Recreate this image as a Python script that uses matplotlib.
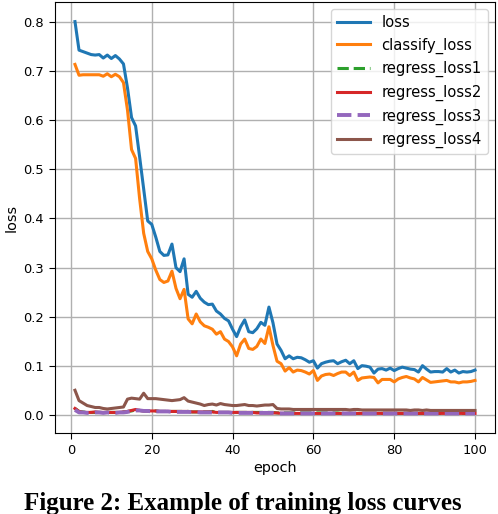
import numpy as np
import matplotlib
matplotlib.use("Agg")
import matplotlib.pyplot as plt

# epochs 1..100
epochs = np.arange(1, 101)

loss = [0.800, 0.742, 0.739, 0.736, 0.733, 0.732, 0.733, 0.726, 0.732, 0.725,
        0.731, 0.724, 0.714, 0.665, 0.605, 0.588, 0.525, 0.460, 0.395, 0.388,
        0.362, 0.333, 0.325, 0.326, 0.348, 0.300, 0.292, 0.318, 0.246, 0.240,
        0.252, 0.238, 0.230, 0.225, 0.226, 0.212, 0.206, 0.197, 0.192, 0.175,
        0.160, 0.180, 0.194, 0.170, 0.168, 0.176, 0.189, 0.183, 0.220, 0.188,
        0.145, 0.132, 0.115, 0.121, 0.115, 0.118, 0.117, 0.113, 0.108, 0.111,
        0.096, 0.105, 0.108, 0.110, 0.111, 0.105, 0.109, 0.112, 0.105, 0.111,
        0.095, 0.101, 0.100, 0.098, 0.086, 0.094, 0.095, 0.092, 0.096, 0.091,
        0.095, 0.098, 0.096, 0.094, 0.093, 0.088, 0.101, 0.094, 0.088, 0.089,
        0.089, 0.088, 0.095, 0.088, 0.092, 0.086, 0.089, 0.088, 0.089, 0.092]

classify_loss = [0.713, 0.691, 0.692, 0.692, 0.692, 0.692, 0.692, 0.689, 0.694, 0.688,
                 0.693, 0.688, 0.676, 0.620, 0.540, 0.522, 0.440, 0.370, 0.333, 0.318,
                 0.295, 0.276, 0.270, 0.273, 0.293, 0.258, 0.237, 0.256, 0.196, 0.186,
                 0.206, 0.190, 0.182, 0.179, 0.175, 0.165, 0.170, 0.155, 0.150, 0.139,
                 0.121, 0.145, 0.155, 0.136, 0.134, 0.140, 0.155, 0.146, 0.180, 0.142,
                 0.110, 0.105, 0.090, 0.097, 0.088, 0.092, 0.091, 0.088, 0.084, 0.091,
                 0.071, 0.080, 0.083, 0.084, 0.081, 0.085, 0.088, 0.088, 0.081, 0.088,
                 0.071, 0.076, 0.077, 0.078, 0.077, 0.066, 0.073, 0.073, 0.073, 0.068,
                 0.074, 0.077, 0.079, 0.076, 0.074, 0.068, 0.077, 0.072, 0.067, 0.068,
                 0.069, 0.070, 0.071, 0.068, 0.068, 0.066, 0.068, 0.068, 0.069, 0.071]

regress_loss1 = [0.014, 0.008, 0.007, 0.006, 0.006, 0.006, 0.006, 0.006, 0.006, 0.006,
                 0.006, 0.006, 0.007, 0.008, 0.009, 0.011, 0.010, 0.009, 0.009, 0.009,
                 0.009, 0.008, 0.008, 0.008, 0.008, 0.008, 0.008, 0.008, 0.008, 0.007,
                 0.007, 0.007, 0.007, 0.007, 0.008, 0.006, 0.006, 0.006, 0.006, 0.006,
                 0.006, 0.006, 0.006, 0.006, 0.006, 0.006, 0.006, 0.006, 0.006, 0.006,
                 0.005, 0.005, 0.005, 0.005, 0.005, 0.005, 0.005, 0.005, 0.005, 0.005,
                 0.005, 0.005, 0.005, 0.005, 0.005, 0.005, 0.004, 0.004, 0.004, 0.004,
                 0.004, 0.004, 0.004, 0.004, 0.004, 0.004, 0.004, 0.004, 0.004, 0.004,
                 0.004, 0.004, 0.004, 0.004, 0.004, 0.004, 0.004, 0.004, 0.004, 0.004,
                 0.004, 0.004, 0.004, 0.004, 0.004, 0.004, 0.004, 0.004, 0.004, 0.004]

regress_loss2 = [0.014, 0.008, 0.006, 0.006, 0.006, 0.007, 0.006, 0.006, 0.006, 0.006,
                 0.006, 0.006, 0.007, 0.008, 0.010, 0.012, 0.010, 0.009, 0.009, 0.009,
                 0.009, 0.008, 0.008, 0.008, 0.008, 0.008, 0.008, 0.008, 0.008, 0.007,
                 0.007, 0.007, 0.007, 0.007, 0.007, 0.006, 0.006, 0.006, 0.006, 0.006,
                 0.006, 0.006, 0.006, 0.006, 0.006, 0.005, 0.005, 0.005, 0.005, 0.005,
                 0.005, 0.004, 0.004, 0.004, 0.004, 0.004, 0.004, 0.004, 0.004, 0.004,
                 0.004, 0.004, 0.004, 0.004, 0.004, 0.004, 0.004, 0.004, 0.004, 0.004,
                 0.004, 0.004, 0.004, 0.004, 0.004, 0.004, 0.004, 0.004, 0.004, 0.004,
                 0.004, 0.004, 0.004, 0.004, 0.004, 0.004, 0.004, 0.004, 0.004, 0.004,
                 0.004, 0.004, 0.004, 0.004, 0.004, 0.004, 0.004, 0.004, 0.004, 0.004]

regress_loss3 = [0.011, 0.006, 0.006, 0.005, 0.005, 0.006, 0.006, 0.005, 0.006, 0.005,
                 0.005, 0.006, 0.006, 0.007, 0.009, 0.010, 0.010, 0.009, 0.009, 0.008,
                 0.008, 0.008, 0.008, 0.008, 0.007, 0.007, 0.007, 0.007, 0.007, 0.007,
                 0.007, 0.006, 0.006, 0.006, 0.006, 0.006, 0.006, 0.006, 0.006, 0.005,
                 0.005, 0.005, 0.005, 0.005, 0.005, 0.005, 0.005, 0.005, 0.005, 0.005,
                 0.004, 0.004, 0.004, 0.004, 0.004, 0.004, 0.004, 0.004, 0.004, 0.004,
                 0.004, 0.004, 0.004, 0.004, 0.004, 0.004, 0.004, 0.004, 0.004, 0.004,
                 0.004, 0.004, 0.004, 0.004, 0.004, 0.004, 0.004, 0.004, 0.004, 0.004,
                 0.004, 0.004, 0.004, 0.004, 0.004, 0.004, 0.004, 0.004, 0.004, 0.004,
                 0.004, 0.004, 0.004, 0.004, 0.004, 0.004, 0.004, 0.004, 0.004, 0.004]

regress_loss4 = [0.051, 0.030, 0.025, 0.020, 0.018, 0.016, 0.016, 0.014, 0.013, 0.014,
                 0.015, 0.016, 0.017, 0.033, 0.035, 0.034, 0.033, 0.045, 0.034, 0.034,
                 0.034, 0.033, 0.032, 0.031, 0.030, 0.031, 0.032, 0.036, 0.029, 0.027,
                 0.025, 0.023, 0.020, 0.022, 0.023, 0.021, 0.024, 0.022, 0.021, 0.020,
                 0.020, 0.021, 0.022, 0.020, 0.020, 0.019, 0.020, 0.021, 0.021, 0.022,
                 0.014, 0.013, 0.013, 0.013, 0.012, 0.012, 0.012, 0.012, 0.012, 0.012,
                 0.012, 0.012, 0.012, 0.012, 0.012, 0.012, 0.012, 0.012, 0.011, 0.012,
                 0.012, 0.011, 0.011, 0.011, 0.011, 0.011, 0.011, 0.011, 0.011, 0.011,
                 0.011, 0.011, 0.011, 0.010, 0.011, 0.011, 0.010, 0.011, 0.010, 0.010,
                 0.010, 0.010, 0.010, 0.010, 0.010, 0.010, 0.010, 0.010, 0.010, 0.010]

fig = plt.figure(figsize=(4.98, 5.14), dpi=100)
ax = fig.add_axes([0.1104, 0.1576, 0.8836, 0.8385])

lw = 2.2
ax.plot(epochs, loss, color='C0', lw=lw, label='loss')
ax.plot(epochs, classify_loss, color='C1', lw=lw, label='classify_loss')
ax.plot(epochs, regress_loss1, color='C2', lw=lw, ls='--', label='regress_loss1')
ax.plot(epochs, regress_loss2, color='C3', lw=lw, label='regress_loss2')
ax.plot(epochs, regress_loss3, color='C4', lw=lw + 0.6, ls='--', label='regress_loss3')
ax.plot(epochs, regress_loss4, color='C5', lw=lw, label='regress_loss4')

ax.grid(True, color='#b0b0b0', lw=1.0)
ax.set_xticks([0, 20, 40, 60, 80, 100])
ax.set_yticks([0.0, 0.1, 0.2, 0.3, 0.4, 0.5, 0.6, 0.7, 0.8])
ax.tick_params(labelsize=9.4, length=4.5)
ax.set_xlabel('epoch', fontsize=10.4, labelpad=3)
ax.set_ylabel('loss', fontsize=10.4, labelpad=3)
ax.legend(loc='upper right', fontsize=10.6, handlelength=2.2)

# caption from the paper page, cut at the bottom edge as in the source
fig.text(0.488, 1 - 492 / 514, 'Figure 2: Example of training loss curves',
         ha='center', va='top', fontsize=18, fontweight='bold',
         family='Liberation Serif')

fig.savefig('out.png', dpi=100)
